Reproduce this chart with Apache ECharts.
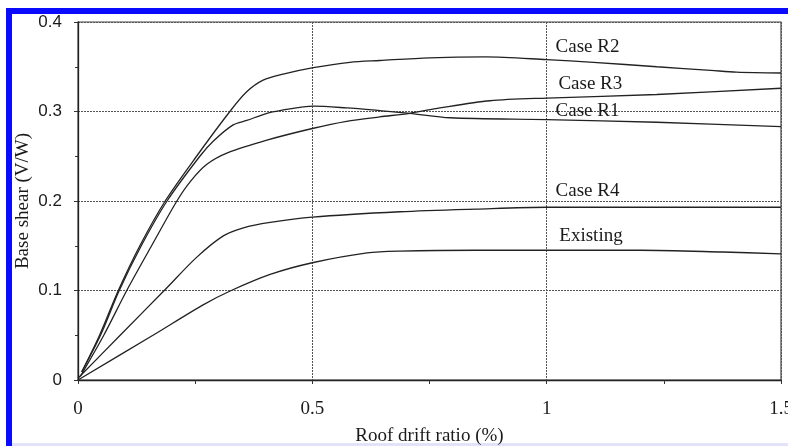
<!DOCTYPE html>
<html>
<head>
<meta charset="utf-8">
<script src="https://cdn.jsdelivr.net/npm/echarts@6/dist/echarts.min.js"></script>
<style>
  html, body { margin: 0; padding: 0; background: #ffffff; }
  #chart { width: 788px; height: 446px; }
</style>
</head>
<body>
<div id="chart"></div>
<script>
// Pushover curves: base shear ratio (V/W) against roof drift ratio (%)
const caseR2 = [[0.008,0.009],[0.046,0.05],[0.086,0.1],[0.132,0.15],[0.186,0.2],[0.253,0.25],[0.324,0.3],
  [0.36,0.322],[0.395,0.335],[0.44,0.342],[0.502,0.349],[0.58,0.355],[0.644,0.357],[0.75,0.36],[0.87,0.361],
  [1.0,0.358],[1.1,0.355],[1.235,0.35],[1.35,0.346],[1.405,0.344],[1.5,0.343]];
const caseR3 = [[0.005,0.004],[0.055,0.05],[0.104,0.1],[0.157,0.15],[0.211,0.2],[0.24,0.222],[0.275,0.241],
  [0.32,0.254],[0.403,0.268],[0.5,0.281],[0.573,0.289],[0.644,0.294],[0.708,0.298],[0.772,0.304],
  [0.879,0.312],[1.0,0.315],[1.235,0.319],[1.5,0.326]];
const caseR1 = [[0.008,0.009],[0.048,0.05],[0.088,0.1],[0.135,0.15],[0.19,0.2],[0.26,0.25],[0.289,0.267],
  [0.331,0.285],[0.36,0.29],[0.403,0.298],[0.431,0.301],[0.502,0.306],[0.573,0.304],[0.644,0.301],
  [0.708,0.298],[0.794,0.293],[1.0,0.291],[1.235,0.288],[1.5,0.283]];
const caseR4 = [[0,0.002],[0.09,0.05],[0.184,0.1],[0.253,0.137],[0.31,0.161],[0.353,0.17],[0.41,0.176],
  [0.5,0.182],[0.687,0.188],[0.85,0.191],[1.0,0.193],[1.25,0.193],[1.5,0.193]];
const existing = [[0,0],[0.16,0.05],[0.267,0.084],[0.327,0.1],[0.41,0.118],[0.5,0.131],[0.617,0.142],
  [0.687,0.144],[0.85,0.145],[1.0,0.145],[1.2,0.145],[1.376,0.143],[1.5,0.141]];

const seriesNames = ['Case R2', 'Case R3', 'Case R1', 'Case R4', 'Existing'];
const seriesData = [caseR2, caseR3, caseR1, caseR4, existing];
// where each curve's name is written (drift %, V/W)
const nameAnchors = [[1.019,0.372],[1.025,0.331],[1.019,0.301],[1.019,0.211],[1.027,0.161]];

const serif = '"Liberation Serif", "Times New Roman", serif';
const sans = '"Liberation Sans", Arial, sans-serif';
const ink = '#1a1a1a';

const chart = echarts.init(document.getElementById('chart'));

const series = seriesNames.map((name, i) => ({
  name: name,
  type: 'line',
  data: seriesData[i],
  smooth: 0.3,
  showSymbol: false,
  silent: true,
  lineStyle: { color: '#222', width: 1.3 },
  markPoint: {
    silent: true,
    symbol: 'circle',
    symbolSize: 0,
    data: [{
      coord: nameAnchors[i],
      label: {
        show: true, position: 'right', distance: 0,
        formatter: name,
        fontFamily: serif, fontSize: 19, color: ink
      }
    }]
  }
}));

const axisTickStyle = { color: '#333', width: 1 };

chart.setOption({
  animation: false,
  backgroundColor: '#ffffff',
  grid: {
    left: 78, right: 7, top: 22, bottom: 66,
    outerBoundsMode: 'none',
    containLabel: false,
    show: true, borderColor: '#444', borderWidth: 1.2, backgroundColor: 'transparent'
  },
  xAxis: {
    type: 'value',
    min: 0, max: 1.5, interval: 0.5,
    name: 'Roof drift ratio (%)',
    nameLocation: 'middle',
    nameGap: 47,
    nameTextStyle: { fontFamily: serif, fontSize: 19, color: ink },
    axisLine: { show: true, lineStyle: { color: '#222', width: 1.3 } },
    axisTick: { show: true, inside: false, length: 4, lineStyle: axisTickStyle },
    minorTick: { show: true, splitNumber: 2, length: 4, lineStyle: axisTickStyle },
    axisLabel: { fontFamily: serif, fontSize: 19, color: ink, margin: 20 },
    splitLine: { show: true, lineStyle: { color: '#555', type: [2, 1], width: 1 } }
  },
  yAxis: [{
    type: 'value',
    min: 0, max: 0.4, interval: 0.1,
    name: 'Base shear (V/W)',
    nameLocation: 'middle',
    nameGap: 45,
    nameMoveOverlap: false,
    nameTextStyle: { fontFamily: serif, fontSize: 19, color: ink },
    axisLine: { show: true, lineStyle: { color: '#222', width: 1.3 } },
    axisTick: { show: true, inside: false, length: 4, lineStyle: axisTickStyle },
    minorTick: { show: true, splitNumber: 2, length: 3, lineStyle: axisTickStyle },
    axisLabel: { fontFamily: sans, fontSize: 17, color: ink, margin: 16 },
    splitLine: { show: true, lineStyle: { color: '#555', type: [2, 1], width: 1 } }
  }],
  graphic: [
    { type: 'rect', shape: { x: 6, y: 8, width: 782, height: 6 }, style: { fill: '#0a0aff' }, silent: true },
    { type: 'rect', shape: { x: 6, y: 8, width: 6, height: 438 }, style: { fill: '#0a0aff' }, silent: true },
    { type: 'rect', shape: { x: 12, y: 443, width: 776, height: 3 }, style: { fill: '#e2e2fa' }, silent: true }
  ],
  series: series
});
</script>
</body>
</html>
